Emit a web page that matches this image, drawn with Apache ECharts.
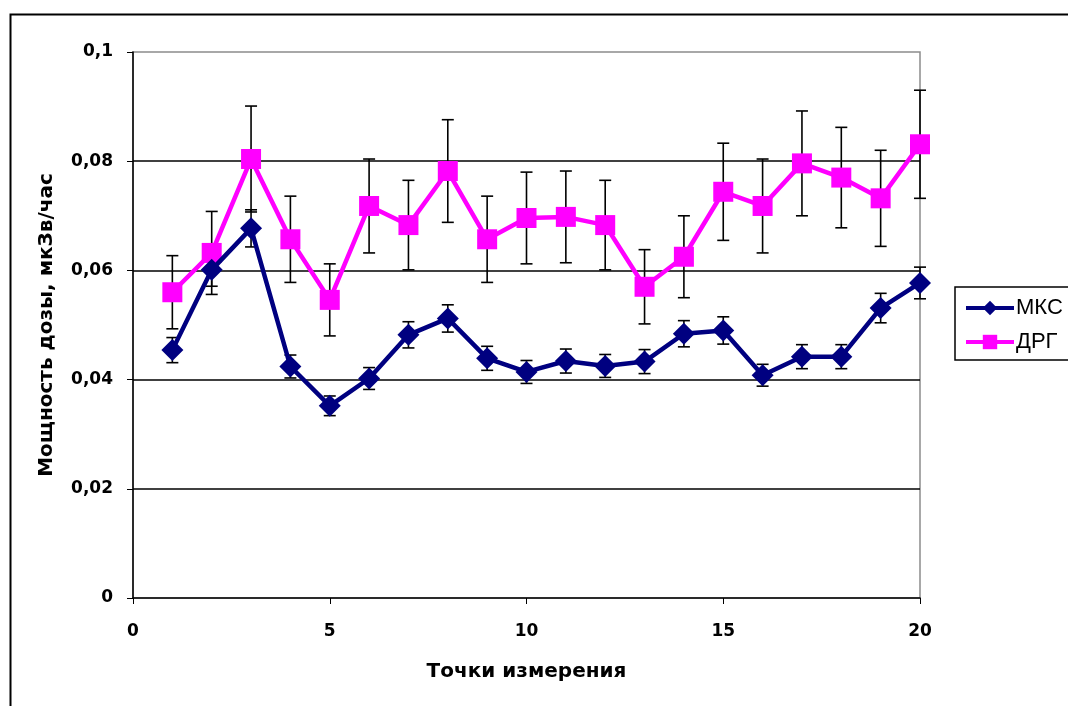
<!DOCTYPE html>
<html>
<head>
<meta charset="utf-8">
<script src="https://cdn.jsdelivr.net/npm/echarts@6/dist/echarts.min.js"></script>
<style>
  html, body { margin: 0; padding: 0; background: #fff; }
  #chart { width: 1068px; height: 706px; }
</style>
</head>
<body>
<div id="chart"></div>
<script>
// Measurement points 1..20
const points = [1, 2, 3, 4, 5, 6, 7, 8, 9, 10, 11, 12, 13, 14, 15, 16, 17, 18, 19, 20];

// Dose rate, µSv/h
const mksValues = [0.0454, 0.0601, 0.0677, 0.0424, 0.0352, 0.0402, 0.0482, 0.0512, 0.0439, 0.0414,
                   0.0434, 0.0425, 0.0433, 0.0484, 0.0490, 0.0408, 0.0442, 0.0442, 0.0531, 0.0577];
const drgValues = [0.0560, 0.0632, 0.0804, 0.0657, 0.0546, 0.0718, 0.0683, 0.0782, 0.0657, 0.0696,
                   0.0698, 0.0683, 0.0570, 0.0625, 0.0744, 0.0718, 0.0796, 0.0770, 0.0732, 0.0831];

// Measurement uncertainty (half-width of error bar)
const mksErrors = [0.0023, 0.0030, 0.0034, 0.0021, 0.0018, 0.0020, 0.0024, 0.0025, 0.0022, 0.0021,
                   0.0022, 0.0021, 0.0022, 0.0024, 0.0025, 0.0020, 0.0022, 0.0022, 0.0027, 0.0029];
const drgErrors = [0.0067, 0.0076, 0.0097, 0.0079, 0.0066, 0.0086, 0.0082, 0.0094, 0.0079, 0.0084,
                   0.0084, 0.0082, 0.0068, 0.0075, 0.0089, 0.0086, 0.0096, 0.0092, 0.0088, 0.0099];

const seriesNames = ['МКС', 'ДРГ'];
const xAxisTitle = 'Точки измерения';
const yAxisTitle = 'Мощность дозы, мкЗв/час';

const FONT = '"Liberation Sans", Arial, sans-serif';
const WIDE_FONT = '"DejaVu Sans", "Liberation Sans", sans-serif';

function pairs(values) { return points.map((p, i) => [p, values[i]]); }
function errorData(values, errors) {
  return points.map((p, i) => [p, values[i] - errors[i], values[i] + errors[i]]);
}

function renderErrorBar(params, api) {
  const x = api.value(0);
  const lo = api.coord([x, api.value(1)]);
  const hi = api.coord([x, api.value(2)]);
  const half = 6;
  const style = { stroke: '#000', lineWidth: 1.6 };
  return {
    type: 'group',
    children: [
      { type: 'line', shape: { x1: lo[0], y1: lo[1], x2: hi[0], y2: hi[1] }, style: style },
      { type: 'line', shape: { x1: lo[0] - half, y1: lo[1], x2: lo[0] + half, y2: lo[1] }, style: style },
      { type: 'line', shape: { x1: hi[0] - half, y1: hi[1], x2: hi[0] + half, y2: hi[1] }, style: style }
    ]
  };
}

const chart = echarts.init(document.getElementById('chart'), null, { renderer: 'canvas' });

chart.setOption({
  backgroundColor: '#fff',
  animation: false,
  textStyle: { fontFamily: FONT },
  graphic: [{
    type: 'rect',
    left: 8, top: 12,
    shape: { width: 1120, height: 760 },
    style: { fill: 'none', stroke: '#000', lineWidth: 2 },
    silent: true, z: -10
  }],
  grid: {
    left: 133, top: 52, right: 148, bottom: 108,
    show: true, borderColor: '#8c8c8c', borderWidth: 1.5, backgroundColor: 'transparent'
  },
  legend: {
    left: 955, top: 287,
    orient: 'vertical',
    data: seriesNames,
    itemWidth: 48, itemHeight: 18, itemGap: 12,
    padding: [10, 30, 7, 9],
    borderColor: '#000', borderWidth: 1.5,
    lineStyle: { width: 4 },
    textStyle: { fontFamily: FONT, fontSize: 22, color: '#000', padding: [0, 0, 0, -3] }
  },
  xAxis: {
    type: 'value', min: 0, max: 20, interval: 5,
    name: xAxisTitle, nameLocation: 'middle', nameGap: 64,
    nameTextStyle: { fontFamily: WIDE_FONT, fontSize: 20, fontWeight: 'bold', color: '#000' },
    axisLine: { show: true, lineStyle: { color: '#000', width: 1.5 } },
    axisTick: { show: true, length: 6, inside: false, lineStyle: { color: '#000', width: 1 } },
    axisLabel: { fontFamily: WIDE_FONT, fontSize: 17, fontWeight: 'bold', color: '#000', margin: 25 },
    splitLine: { show: false }
  },
  yAxis: {
    type: 'value', min: 0, max: 0.1, interval: 0.02,
    name: yAxisTitle, nameLocation: 'middle', nameGap: 76, nameRotate: 90,
    nameTextStyle: { fontFamily: WIDE_FONT, fontSize: 20, fontWeight: 'bold', color: '#000' },
    axisLine: { show: true, lineStyle: { color: '#000', width: 1.5 } },
    axisTick: { show: true, length: 6, inside: false, lineStyle: { color: '#000', width: 1 } },
    axisLabel: {
      fontFamily: WIDE_FONT, fontSize: 17, fontWeight: 'bold', color: '#000', margin: 20,
      formatter: v => String(+v.toFixed(2)).replace('.', ',')
    },
    splitLine: { show: true, showMinLine: false, showMaxLine: false, lineStyle: { color: '#000', width: 1.5 } }
  },
  series: [
    {
      name: 'ДРГ-err', type: 'custom', renderItem: renderErrorBar,
      data: errorData(drgValues, drgErrors), z: 2, silent: true
    },
    {
      name: 'МКС-err', type: 'custom', renderItem: renderErrorBar,
      data: errorData(mksValues, mksErrors), z: 2, silent: true
    },
    {
      name: seriesNames[1], type: 'line', data: pairs(drgValues),
      symbol: 'rect', symbolSize: 20, showSymbol: true,
      lineStyle: { color: '#ff00ff', width: 4.5 },
      itemStyle: { color: '#ff00ff', borderWidth: 0 },
      z: 3
    },
    {
      name: seriesNames[0], type: 'line', data: pairs(mksValues),
      symbol: 'diamond', symbolSize: 22, showSymbol: true,
      lineStyle: { color: '#000080', width: 4.5 },
      itemStyle: { color: '#000080', borderWidth: 0 },
      z: 4
    }
  ]
});
</script>
</body>
</html>
